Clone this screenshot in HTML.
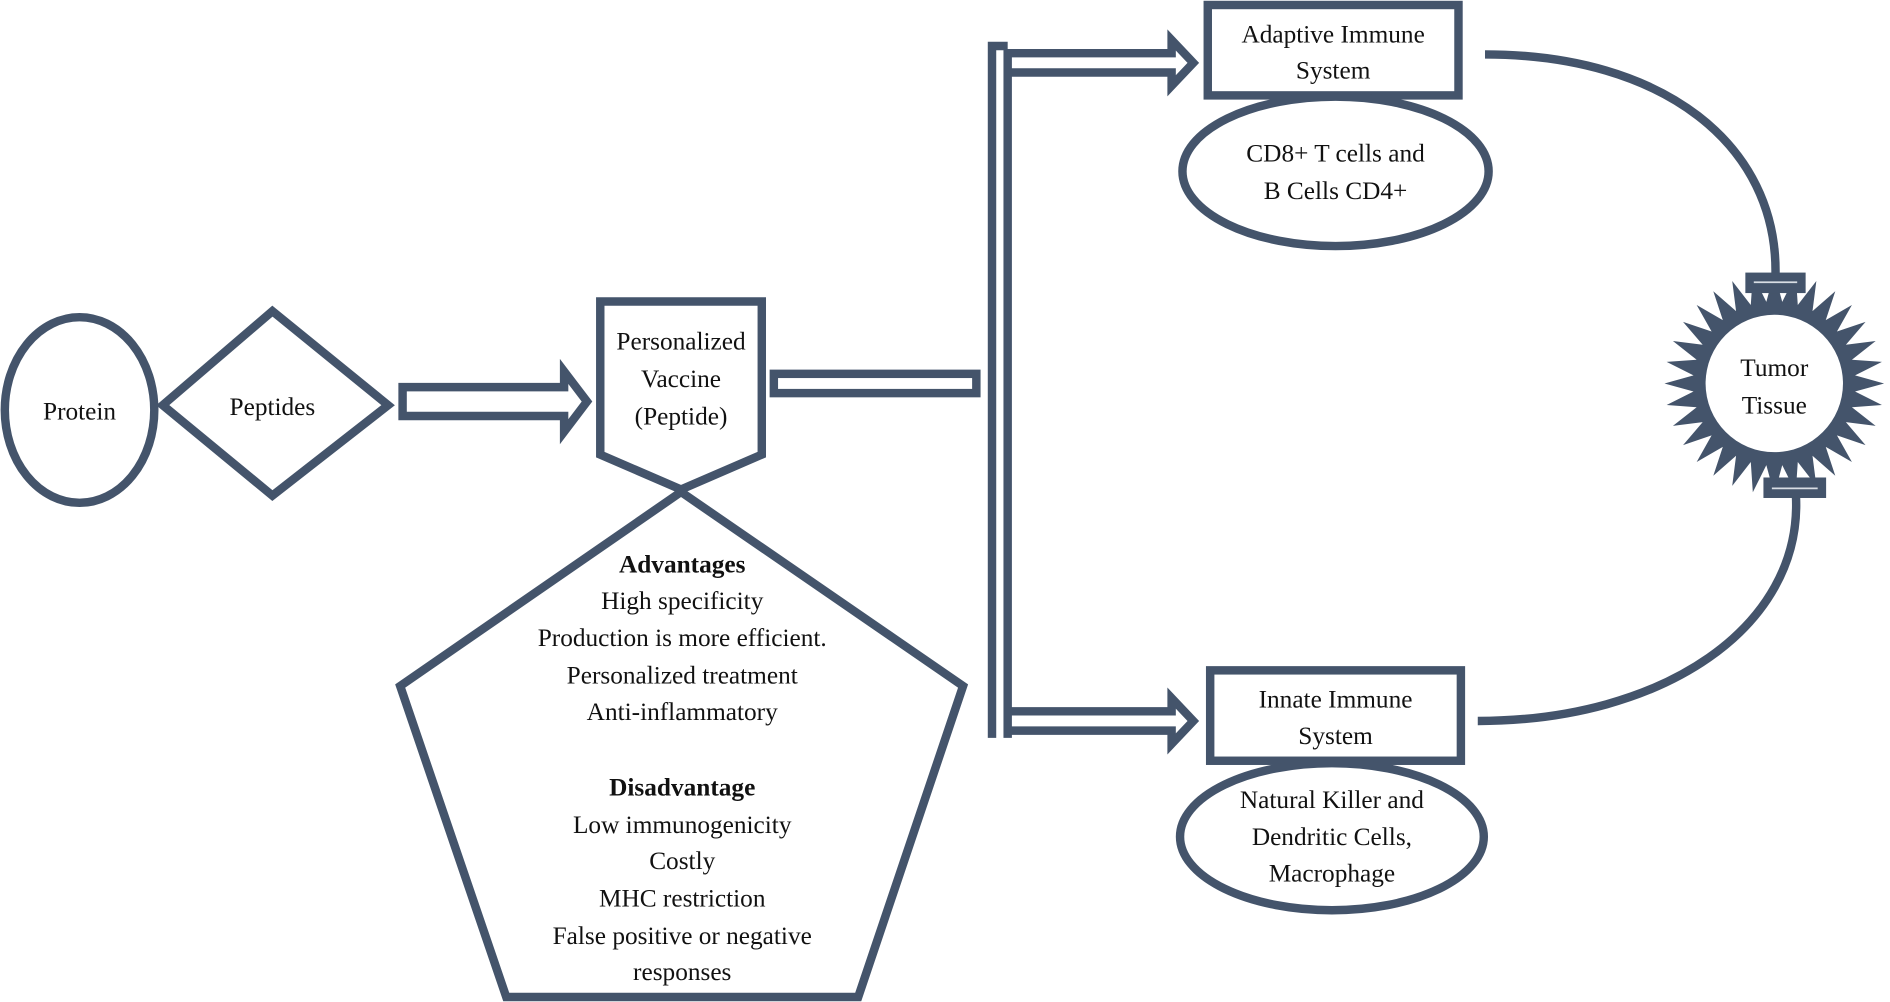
<!DOCTYPE html>
<html><head><meta charset="utf-8"><style>html,body{margin:0;padding:0;background:#fff}svg{display:block}</style></head>
<body>
<svg width="1890" height="1002" viewBox="0 0 1568 831" xmlns="http://www.w3.org/2000/svg" font-family="'Liberation Serif', serif" font-size="21" fill="#111">
<g fill="none" stroke="#44546b" stroke-width="7">
<ellipse cx="66" cy="340" rx="62" ry="77"/>
<polygon points="226,258 322,336 226,411 135,336"/>
<polygon points="334,321 468,321 468,308 487,333 468,358 468,345 334,345"/>
<polygon points="498,250 632,250 632,377 565,406 498,377"/>
<polygon points="565,408 799,569 712,827 420,827 332,569"/>
<rect x="642" y="310" width="168" height="16"/>
<polyline points="823,612 823,38 836,38"/>
<polyline points="836,612 836,44 972,44 972,33 990,52 972,71 972,60 836,60"/>
<polyline points="836,590 972,590 972,579 990,598 972,617 972,606 836,606"/>
<rect x="1002" y="4" width="208" height="75"/>
<ellipse cx="1108" cy="142" rx="127" ry="62"/>
<rect x="1004" y="556" width="208" height="75"/>
<ellipse cx="1105" cy="694" rx="126" ry="61"/>
<path d="M1232,45 C1380,45 1475,120 1473,228"/>
<path d="M1490,412 C1495,520 1380,598 1226,598"/>
</g>
<path id="star" fill="#44546b" d=""/>
<circle cx="1472" cy="318" r="57" fill="#fff"/>
<g fill="#44546b">
<rect x="1448" y="226" width="50" height="17"/>
<rect x="1463" y="396" width="52" height="17"/>
</g>
<g stroke="#d8dde4" stroke-width="1.5"><line x1="1455" y1="234" x2="1491" y2="234"/><line x1="1470" y1="405" x2="1508" y2="405"/></g>
<g text-anchor="middle">
<text x="66" y="348">Protein</text>
<text x="226" y="344">Peptides</text>
<text x="565" y="290">Personalized</text>
<text x="565" y="321">Vaccine</text>
<text x="565" y="352">(Peptide)</text>
<text x="1106" y="35">Adaptive Immune</text>
<text x="1106" y="65">System</text>
<text x="1108" y="134">CD8+ T cells and</text>
<text x="1108" y="165">B Cells CD4+</text>
<text x="1108" y="587">Innate Immune</text>
<text x="1108" y="617">System</text>
<text x="1105" y="670">Natural Killer and</text>
<text x="1105" y="701">Dendritic Cells,</text>
<text x="1105" y="731">Macrophage</text>
<text x="1472" y="312">Tumor</text>
<text x="1472" y="343">Tissue</text>
<text x="566" y="475" font-weight="bold">Advantages</text>
<text x="566" y="505">High specificity</text>
<text x="566" y="536">Production is more efficient.</text>
<text x="566" y="567">Personalized treatment</text>
<text x="566" y="597">Anti-inflammatory</text>
<text x="566" y="660" font-weight="bold">Disadvantage</text>
<text x="566" y="691">Low immunogenicity</text>
<text x="566" y="721">Costly</text>
<text x="566" y="752">MHC restriction</text>
<text x="566" y="783">False positive or negative</text>
<text x="566" y="813">responses</text>
</g>
</svg>
<script>
(function(){var cx=1472,cy=318,n=32,R=92,r=68,d="";
for(var i=0;i<2*n;i++){var a=Math.PI*i/n-Math.PI/2,rr=i%2?r:R;
d+=(i?"L":"M")+(cx+rr*Math.cos(a)*0.99).toFixed(1)+","+(cy+rr*Math.sin(a)).toFixed(1);}
document.getElementById("star").setAttribute("d",d+"Z");})();
</script>
</body></html>
